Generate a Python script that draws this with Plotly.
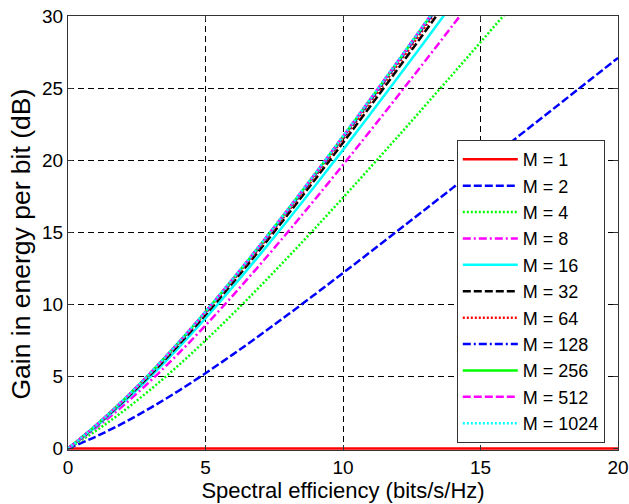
import plotly.graph_objects as go

# Spectral efficiency samples (bits/s/Hz)
se_full = list(range(0, 21))
se_short = list(range(0, 15))
se_m4 = list(range(0, 18))
se_m8 = list(range(0, 16))

# Gain in energy per bit (dB) for each number of antennas M
gain_m1 = [0.0] * 21
gain_m2 = [0.0, 0.817, 1.761, 2.820, 3.979, 5.222, 6.532, 7.893, 9.294, 10.724,
           12.175, 13.641, 15.119, 16.604, 18.096, 19.591, 21.089, 22.589,
           24.091, 25.594, 27.097]
gain_m4 = [0.0, 1.210, 2.578, 4.094, 5.740, 7.500, 9.352, 11.282, 13.274, 15.315,
           17.397, 19.511, 21.651, 23.812, 25.989, 28.180, 30.383, 32.595]
gain_m8 = [0.0, 1.402, 2.971, 4.695, 6.558, 8.541, 10.626, 12.795, 15.034, 17.331,
           19.674, 22.056, 24.471, 26.913, 29.377, 31.862]
gain_m16 = [0.0, 1.497, 3.163, 4.986, 6.950, 9.037, 11.227, 13.504, 15.852, 18.259,
            20.716, 23.213, 25.745, 28.305, 30.891]
gain_m32 = [0.0, 1.545, 3.258, 5.130, 7.143, 9.279, 11.519, 13.845, 16.244, 18.703,
            21.212, 23.761, 26.345, 28.960, 31.599]
gain_m64 = [0.0, 1.569, 3.306, 5.201, 7.238, 9.398, 11.662, 14.013, 16.437, 18.919,
            21.454, 24.028, 26.637, 29.277, 31.941]
gain_m128 = [0.0, 1.580, 3.329, 5.237, 7.285, 9.457, 11.733, 14.096, 16.532, 19.027,
             21.573, 24.159, 26.780, 29.432, 32.108]
gain_m256 = [0.0, 1.586, 3.341, 5.254, 7.308, 9.487, 11.769, 14.138, 16.579, 19.080,
             21.632, 24.224, 26.851, 29.509, 32.191]
gain_m512 = [0.0, 1.589, 3.347, 5.263, 7.320, 9.501, 11.786, 14.158, 16.602, 19.106,
             21.661, 24.257, 26.886, 29.548, 32.233]
gain_m1024 = [0.0, 1.590, 3.350, 5.268, 7.326, 9.509, 11.795, 14.169, 16.614, 19.120,
              21.676, 24.273, 26.904, 29.567, 32.253]

series_names = ["M = 1", "M = 2", "M = 4", "M = 8", "M = 16", "M = 32",
                "M = 64", "M = 128", "M = 256", "M = 512", "M = 1024"]
series_x = [se_full, se_full, se_m4, se_m8, se_short, se_short,
            se_short, se_short, se_short, se_short, se_short]
series_y = [gain_m1, gain_m2, gain_m4, gain_m8, gain_m16, gain_m32,
            gain_m64, gain_m128, gain_m256, gain_m512, gain_m1024]

DASHED = "8px,3px"
DOTTED = "2px,2px"
DASHDOT = "8px,3px,2px,3px"
styles = [
    ("#ff0000", "solid"),
    ("#0000ff", DASHED),
    ("#00ff00", DOTTED),
    ("#ff00ff", DASHDOT),
    ("#00ffff", "solid"),
    ("#000000", DASHED),
    ("#ff0000", DOTTED),
    ("#0000ff", DASHDOT),
    ("#00ff00", "solid"),
    ("#ff00ff", DASHED),
    ("#00ffff", DOTTED),
]

FONT = "Liberation Sans, Arial, sans-serif"

fig = go.Figure()
for i, (name, xs, ys, (color, dash)) in enumerate(
        zip(series_names, series_x, series_y, styles)):
    fig.add_trace(go.Scatter(
        x=xs, y=ys, mode="lines", name=name,
        legendgroup=f"g{i}",
        line=dict(color=color, dash=dash, width=2.5, shape="spline"),
    ))

axis_common = dict(
    showline=True, linecolor="#333333", linewidth=1, mirror="ticks",
    ticks="inside", ticklen=5, tickcolor="#333333",
    showgrid=True, gridcolor="#000000", gridwidth=1, griddash="6px,4px",
    zeroline=False, ticklabeloverflow="allow", automargin=False,
    tickfont=dict(family=FONT, size=19, color="#000000"),
)

fig.update_xaxes(
    range=[0, 20], tickvals=[0, 5, 10, 15, 20],
    title=dict(text="Spectral efficiency (bits/s/Hz)", standoff=2,
               font=dict(family=FONT, size=22, color="#000000")),
    **axis_common,
)
fig.update_yaxes(
    range=[-0.1, 30], tickvals=[0, 5, 10, 15, 20, 25, 30],
    **axis_common,
)

# Vertical axis title, placed as a rotated annotation
fig.add_annotation(
    text="Gain in energy per bit (dB)", textangle=-90,
    xref="paper", yref="paper", x=-0.085, y=0.474,
    xanchor="center", yanchor="middle", showarrow=False,
    font=dict(family=FONT, size=26.5, color="#000000"),
)

fig.update_layout(
    width=629, height=504,
    margin=dict(l=68, r=11, t=16, b=54),
    paper_bgcolor="white", plot_bgcolor="white",
    font=dict(family=FONT, size=18, color="#000000"),
    legend=dict(
        x=0.976, y=0.016, xanchor="right", yanchor="bottom",
        bgcolor="white", bordercolor="#333333", borderwidth=1,
        font=dict(family=FONT, size=18, color="#000000"),
        tracegroupgap=0, traceorder="grouped", itemwidth=55,
    ),
)

fig.write_html("out.html")
